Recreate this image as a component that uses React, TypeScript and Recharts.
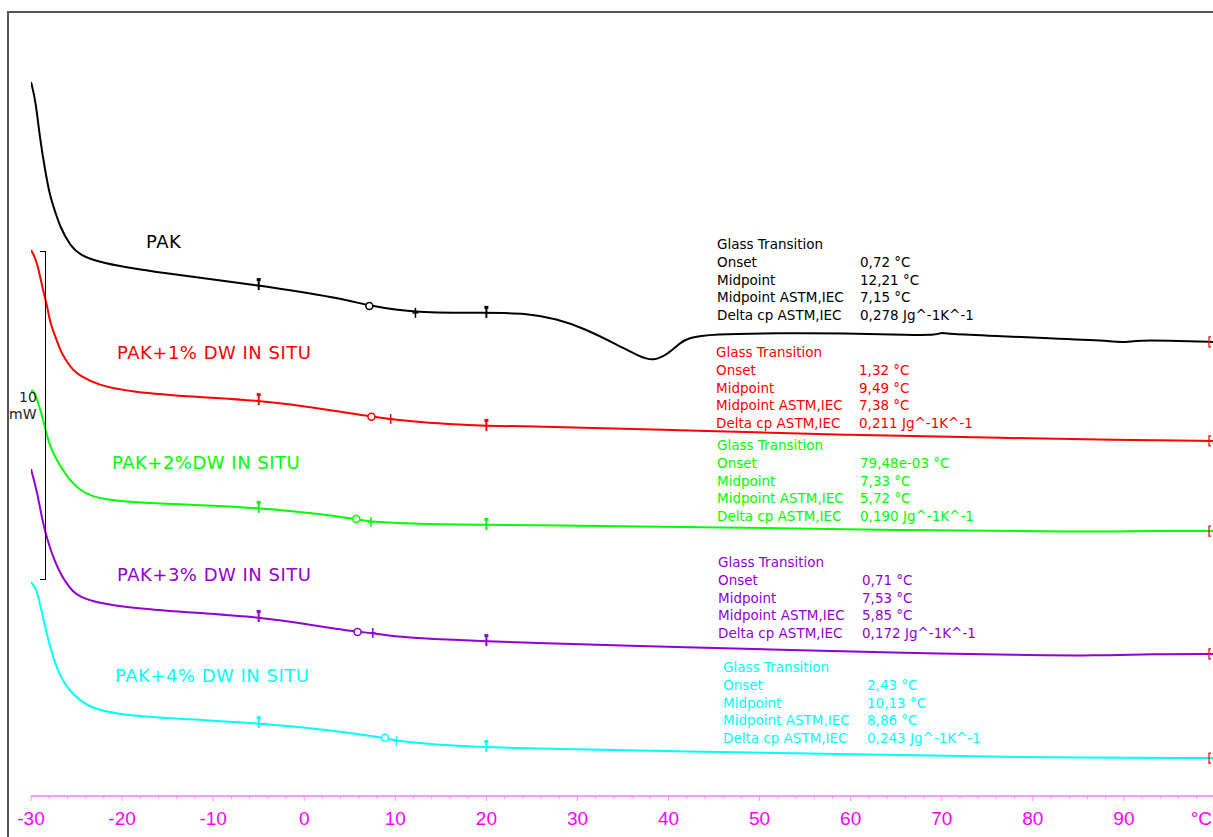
import React from 'react';
import { LineChart, Line, XAxis, YAxis } from 'recharts';

// temperature (°C) vs heat flow (mW), curves stacked with the instrument's display offset
const pak = [
    [-30, 21.86], [-29.5, 21.31], [-29, 20.08], [-28.4, 19.07], [-27.9, 18.34], [-27.3, 17.85],
    [-26.8, 17.42], [-25.7, 16.84], [-24.6, 16.56], [-22.5, 16.32], [-15.8, 16.01], [-5, 15.64],
    [4, 15.24], [7.15, 15.0], [12.21, 14.79], [20, 14.79], [24.3, 14.79], [27.8, 14.6],
    [30.6, 14.33], [34.4, 13.81], [36.9, 13.44], [38.3, 13.32], [39.8, 13.5], [41.3, 13.87],
    [42, 14.02], [44.8, 14.14], [52, 14.17], [59.3, 14.17], [66.6, 14.11], [69.5, 14.11],
    [70, 14.2], [70.6, 14.14], [76, 14.08], [81.5, 14.02], [88.8, 13.93], [90.3, 13.87],
    [91.4, 13.96], [96.1, 13.93], [100, 13.9],
];
const pak1 = [
    [-30, 16.71], [-29.8, 16.62], [-29.3, 16.32], [-28.7, 15.49], [-28.2, 14.98], [-27.9, 14.47],
    [-27.3, 14.05], [-26.8, 13.65], [-26.2, 13.35], [-25.4, 13.04], [-24.6, 12.86], [-22.7, 12.58],
    [-19.1, 12.37], [-11.7, 12.21], [-5, 12.12], [2.9, 11.82], [7.38, 11.61], [9.49, 11.54],
    [12.4, 11.45], [17.5, 11.36], [20, 11.33], [22.6, 11.33], [41.3, 11.2], [59.3, 11.05],
    [77.5, 10.96], [88.8, 10.9], [100, 10.87],
];
const pak2 = [
    [-30, 12.37], [-29.8, 12.46], [-29.3, 12.12], [-28.8, 11.66], [-28.4, 11.2], [-27.9, 10.68],
    [-27.2, 10.3], [-26.2, 9.85], [-25.7, 9.66], [-24.6, 9.36], [-23.5, 9.18], [-20.5, 9.0],
    [-11.7, 8.91], [-5, 8.82], [1, 8.66], [5.72, 8.48], [7.33, 8.39], [12, 8.33], [20, 8.3],
    [22.6, 8.3], [43.5, 8.23], [65, 8.14], [87, 8.08], [89, 8.11], [100, 8.11],
];
const pak3 = [
    [-30, 10.01], [-29.3, 9.28], [-28.7, 8.36], [-28.3, 7.95], [-27.6, 7.32], [-26.8, 6.83],
    [-26.2, 6.55], [-25.4, 6.25], [-24.6, 6.09], [-22.7, 5.91], [-19.1, 5.76], [-11.7, 5.6],
    [-5, 5.48], [1, 5.23], [5.85, 5.02], [7.53, 4.99], [10.2, 4.87], [13.8, 4.81], [20, 4.74],
    [22.6, 4.71], [43.5, 4.53], [54.5, 4.47], [65.5, 4.38], [78.7, 4.32], [87, 4.29],
    [93, 4.35], [100, 4.35],
];
const pak4 = [
    [-30, 6.55], [-29.5, 6.37], [-29.3, 6.21], [-28.8, 5.63], [-28.2, 4.87], [-27.2, 3.86],
    [-25.7, 3.15], [-23.5, 2.69], [-20.5, 2.48], [-11.7, 2.33], [-5, 2.23], [2.9, 2.02],
    [8.86, 1.78], [10.13, 1.68], [16.4, 1.53], [20, 1.5], [22.6, 1.47], [43.5, 1.35],
    [65.5, 1.26], [76.5, 1.19], [100, 1.16],
];

const seriesNames = ['PAK', 'PAK+1% DW IN SITU', 'PAK+2%DW IN SITU', 'PAK+3% DW IN SITU', 'PAK+4% DW IN SITU'];
const colors = ['#000000', '#ff0000', '#00ff00', '#9400d3', '#00ffff'];
const midpoints = [12.21, 9.49, 7.33, 7.53, 10.13];
const midpointsAstm = [7.15, 7.38, 5.72, 5.85, 8.86];
const evalLimits = [-5, 20];

const rowNames = ['Glass Transition', 'Onset', 'Midpoint', 'Midpoint ASTM,IEC', 'Delta cp ASTM,IEC'];
const results = [
    ['0,72 °C', '12,21 °C', '7,15 °C', '0,278 Jg^-1K^-1'],
    ['1,32 °C', '9,49 °C', '7,38 °C', '0,211 Jg^-1K^-1'],
    ['79,48e-03 °C', '7,33 °C', '5,72 °C', '0,190 Jg^-1K^-1'],
    ['0,71 °C', '7,53 °C', '5,85 °C', '0,172 Jg^-1K^-1'],
    ['2,43 °C', '10,13 °C', '8,86 °C', '0,243 Jg^-1K^-1'],
];

const majorTicks = [-30, -20, -10, 0, 10, 20, 30, 40, 50, 60, 70, 80, 90, 100];
const xTicks: number[] = [];
for (let t = -30; t <= 100; t += 2) xTicks.push(t);

const curves = [pak, pak1, pak2, pak3, pak4].map((c) => c.map(([t, hf]) => ({ t, hf })));

// where the texts sit on the page
const labelPos = [
    { x: 146, y: 242 },
    { x: 117, y: 353 },
    { x: 112, y: 463 },
    { x: 117, y: 575 },
    { x: 115, y: 676 },
];
const blockPos = [
    { x: 717, vx: 860, y: 245 },
    { x: 716, vx: 859, y: 353 },
    { x: 717, vx: 860, y: 446 },
    { x: 718, vx: 862, y: 563 },
    { x: 723, vx: 867, y: 668 },
];

const FONT = '"DejaVu Sans", Verdana, sans-serif';

const makeDot = (color: string, mid: number, midAstm: number) => (props: any) => {
    const { cx, cy, payload, index } = props;
    const key = `d-${index}`;
    if (cx == null || cy == null) return <g key={key} />;
    const t = payload.t;
    if (evalLimits.includes(t)) {
        return (
            <g key={key}>
                <line x1={cx} x2={cx} y1={cy - 6} y2={cy + 5} stroke={color} strokeWidth={2} />
                <rect x={cx - 2} y={cy - 7} width={4} height={3} fill={color} />
            </g>
        );
    }
    if (t === midAstm) {
        return <circle key={key} cx={cx} cy={cy} r={3.5} fill="#fff" stroke={color} strokeWidth={1.5} />;
    }
    if (t === mid) {
        return (
            <g key={key}>
                <line x1={cx} x2={cx} y1={cy - 5} y2={cy + 5} stroke={color} strokeWidth={1.5} />
                <line x1={cx - 3} x2={cx + 3} y1={cy} y2={cy} stroke={color} strokeWidth={1.5} />
            </g>
        );
    }
    if (t === 100) {
        return <path key={key} d={`M${cx - 4},${cy - 5} h-2 v10 h2`} stroke="#ff0000" fill="none" strokeWidth={1.2} />;
    }
    return <g key={key} />;
};

const AxisTick = (props: any) => {
    const { x, y, payload } = props;
    const v = payload.value;
    const major = majorTicks.includes(v);
    return (
        <g>
            <line x1={x} x2={x} y1={y} y2={y + (major ? 5 : 3)} stroke="#ff88ff" strokeWidth={1} />
            {major && (
                <text
                    x={v === 100 ? x - 3 : x}
                    y={y + 29}
                    textAnchor={v === 100 ? 'end' : 'middle'}
                    fill="#ff00ff"
                    fontSize={19}
                    fontFamily='"Liberation Sans", Arial, sans-serif'
                >
                    {v === 100 ? '°C' : v}
                </text>
            )}
        </g>
    );
};

export default function App() {
    return (
        <div
            style={{
                position: 'absolute',
                left: 0,
                top: 0,
                width: 1213,
                height: 837,
                overflow: 'hidden',
                background: '#fff',
                fontFamily: FONT,
            }}
        >
            <div
                style={{
                    position: 'absolute',
                    left: 7,
                    top: 11,
                    width: 1213,
                    height: 837,
                    borderLeft: '2px solid #555',
                    borderTop: '2px solid #555',
                }}
            />
            <div style={{ position: 'absolute', left: 0, top: 0 }}>
                <LineChart width={1215} height={837} margin={{ top: 12, right: 0, left: 31, bottom: 11 }}>
                    <XAxis
                        dataKey="t"
                        type="number"
                        domain={[-30, 100]}
                        ticks={xTicks}
                        interval={0}
                        allowDataOverflow
                        height={30}
                        tickSize={0}
                        tickMargin={0}
                        tickLine={false}
                        axisLine={{ stroke: '#ff99ff', strokeWidth: 2 }}
                        tick={<AxisTick />}
                    />
                    <YAxis hide type="number" domain={[0, 24]} allowDataOverflow />
                    {curves.map((data, i) => (
                        <Line
                            key={seriesNames[i]}
                            data={data}
                            dataKey="hf"
                            type="basis"
                            stroke={colors[i]}
                            strokeWidth={2}
                            dot={makeDot(colors[i], midpoints[i], midpointsAstm[i])}
                            activeDot={false}
                            isAnimationActive={false}
                        />
                    ))}
                </LineChart>
            </div>

            {/* 10 mW scale bar */}
            <div
                style={{
                    position: 'absolute',
                    left: 40,
                    top: 251,
                    width: 5,
                    height: 327,
                    borderTop: '1px solid #000',
                    borderRight: '1px solid #000',
                    borderBottom: '1px solid #000',
                }}
            />
            <div style={{ position: 'absolute', left: 19, top: 389, fontSize: 14, lineHeight: '17px', color: '#222', textAlign: 'right', width: 17 }}>
                10
            </div>
            <div style={{ position: 'absolute', left: 9, top: 406, fontSize: 14, lineHeight: '17px', color: '#222' }}>mW</div>

            {seriesNames.map((name, i) => (
                <div
                    key={name}
                    style={{
                        position: 'absolute',
                        left: labelPos[i].x,
                        top: labelPos[i].y - 9,
                        fontSize: 18,
                        lineHeight: '18px',
                        letterSpacing: 0.5,
                        color: colors[i],
                        whiteSpace: 'nowrap',
                    }}
                >
                    {name}
                </div>
            ))}

            {results.map((vals, i) => (
                <div key={`res-${i}`}>
                    {rowNames.map((row, r) => (
                        <React.Fragment key={row}>
                            <div
                                style={{
                                    position: 'absolute',
                                    left: blockPos[i].x,
                                    top: blockPos[i].y - 9 + r * 17.8,
                                    fontSize: 13.5,
                                    lineHeight: '17.8px',
                                    color: colors[i],
                                    whiteSpace: 'nowrap',
                                }}
                            >
                                {row}
                            </div>
                            {r > 0 && (
                                <div
                                    style={{
                                        position: 'absolute',
                                        left: blockPos[i].vx,
                                        top: blockPos[i].y - 9 + r * 17.8,
                                        fontSize: 13.5,
                                        lineHeight: '17.8px',
                                        color: colors[i],
                                        whiteSpace: 'nowrap',
                                    }}
                                >
                                    {vals[r - 1]}
                                </div>
                            )}
                        </React.Fragment>
                    ))}
                </div>
            ))}
        </div>
    );
}
